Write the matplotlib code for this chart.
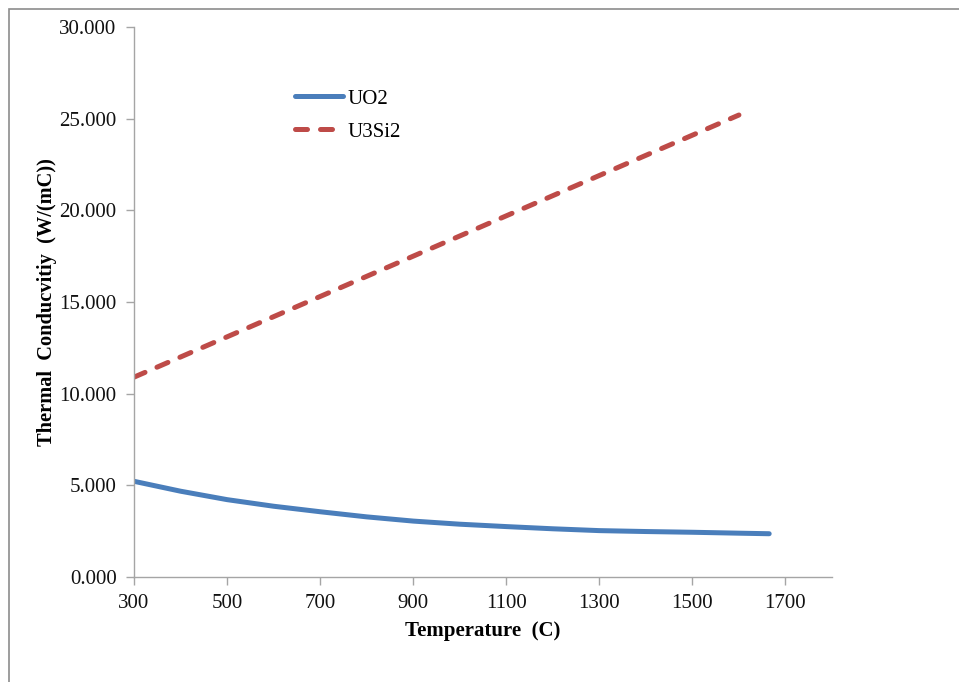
import matplotlib
matplotlib.use('Agg')
import matplotlib.pyplot as plt
from matplotlib.patches import Rectangle

plt.rcParams['font.family'] = ['Liberation Serif', 'DejaVu Serif']

# temperature (C) and conductivity (W/(m C)) for the two fuels
temp_uo2 = [300, 400, 500, 600, 700, 800, 900, 1000, 1100, 1200, 1300, 1400, 1500, 1600, 1665]
k_uo2 = [5.22, 4.68, 4.22, 3.86, 3.56, 3.28, 3.05, 2.88, 2.75, 2.63, 2.53, 2.48, 2.44, 2.39, 2.36]

temp_u3si2 = [300, 400, 500, 600, 700, 800, 900, 1000, 1100, 1200, 1300, 1400, 1500, 1600]
k_u3si2 = [10.90, 12.00, 13.10, 14.20, 15.30, 16.40, 17.50, 18.60, 19.70, 20.80, 21.90, 23.00, 24.10, 25.20]

x_ticks = [300, 500, 700, 900, 1100, 1300, 1500, 1700]
y_ticks = [0, 5, 10, 15, 20, 25, 30]

fig = plt.figure(figsize=(9.59, 6.82), dpi=100)
ax = fig.add_axes([134 / 959, 1 - 577 / 682, (832 - 134) / 959, (577 - 27) / 682])

# chart area border, only the top and left edges show
fig.patches.append(Rectangle((8.5 / 959, -0.5), 2, 1.5 - 8.5 / 682, transform=fig.transFigure,
                             fill=False, edgecolor='#8c8c8c', linewidth=1.2))

ax.plot(temp_uo2, k_uo2, color='#4a7ebb', linewidth=3.6, solid_capstyle='round', label='UO2')
ax.plot(temp_u3si2, k_u3si2, color='#be4b48', linewidth=3.6, dash_capstyle='round',
        dashes=(2.4, 2.6), label='U3Si2')

ax.set_xlim(300, 1800)
ax.set_ylim(0, 30)
ax.set_xticks(x_ticks)
ax.set_yticks(y_ticks)
ax.set_yticklabels(['%.3f' % v for v in y_ticks])

for side in ['top', 'right']:
    ax.spines[side].set_visible(False)
for side in ['left', 'bottom']:
    ax.spines[side].set_color('#a5a5a5')
    ax.spines[side].set_linewidth(1.0)
ax.tick_params(axis='both', colors='#a5a5a5', length=6, width=1.0, labelsize=15, labelcolor='#111111')
ax.tick_params(axis='y', pad=6.5)
ax.tick_params(axis='x', pad=6)

ax.set_xlabel('Temperature  (C)', fontsize=15, fontweight='bold', labelpad=6)
ax.set_ylabel('Thermal  Conducvitiy  (W/(mC))', fontsize=14.7, fontweight='bold', labelpad=2)

ax.legend(loc='upper left', bbox_to_anchor=(295 / 959, 1 - 89 / 682), bbox_transform=fig.transFigure,
          frameon=False, fontsize=15, handlelength=2.3, handletextpad=0.2, labelspacing=0.65,
          borderpad=0, borderaxespad=0)

fig.savefig('out.png', dpi=100, facecolor='white')
